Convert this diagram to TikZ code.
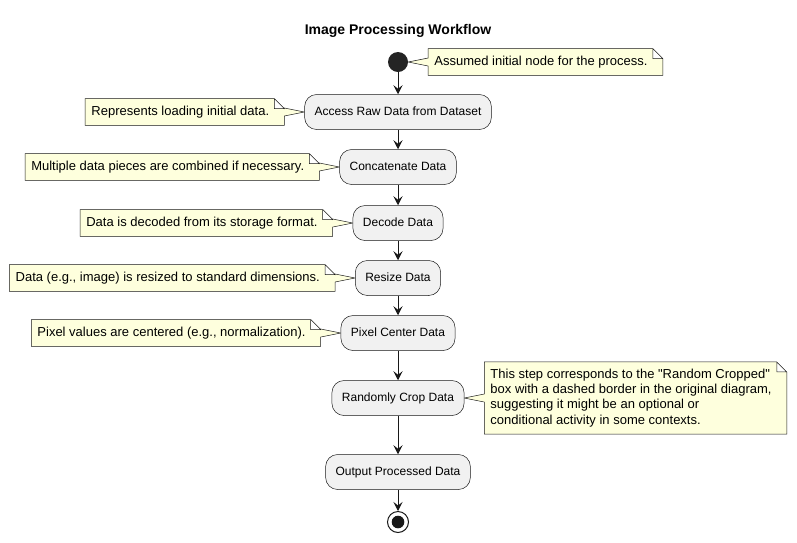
\documentclass[tikz,border=0pt]{standalone}
\usepackage{fontspec}
\setmainfont{Liberation Sans}[Ligatures=TeXOff]
\usepackage{tikz}
\usetikzlibrary{calc,arrows.meta,positioning,backgrounds}

\definecolor{actfill}{HTML}{F1F1F1}
\definecolor{notefill}{HTML}{FEFFDD}
\definecolor{umlline}{HTML}{181818}

\begin{document}
\begin{tikzpicture}[x=1pt,y=-1pt]
      \tikzset{activity/.style={draw=umlline,
          line width=0.5pt,
          fill=actfill,
          rounded corners=12pt,
          minimum height=35pt,
          inner xsep=10pt,
          text height=9pt,
          text depth=2.5pt,
          font=\fontsize{12}{14}\selectfont},
        note text/.style={inner xsep=6pt,
          inner ysep=7pt,
          align=left,
          font=\fontsize{13}{15.2}\selectfont},
        one line/.style={text height=9.5pt, text depth=3pt},
        note line/.style={draw=umlline, line width=0.5pt, fill=notefill},
        flow/.style={draw=umlline, line width=1pt,
          -{Stealth[length=9pt,width=9pt,inset=3.5pt]}}
      }
      \useasboundingbox (0,0) rectangle (797,542);
      \node [font=\bfseries\fontsize{14}{16}\selectfont] (title) at (398,31) {Image Processing Workflow};
      \node [circle,fill=umlline!95,minimum size=20pt,inner sep=0pt] (start) at (398,62) {};
      \node [activity] (raw) at (398,112) {Access Raw Data from Dataset};
      \node [activity] (cat) at (398,167) {Concatenate Data};
      \node [activity] (dec) at (398,223) {Decode Data};
      \node [activity] (res) at (398,278) {Resize Data};
      \node [activity] (pix) at (398,333) {Pixel Center Data};
      \node [activity] (crop) at (398,398) {Randomly Crop Data};
      \node [activity] (out) at (398,472) {Output Processed Data};
      \node [circle,draw=umlline,line width=1pt,fill=white,minimum size=21pt,inner sep=0pt] (stop) at (398,522) {};
      \fill [umlline] (stop.center) circle (6.3pt);
      \node [note text,one line,right=20pt of start] (startnote) {Assumed initial node for the process.};
      \node [note text,one line,left=29pt of raw] (rawnote) {Represents loading initial data.};
      \node [note text,one line,left=29pt of cat] (catnote) {Multiple data pieces are combined if necessary.};
      \node [note text,one line,left=29pt of dec] (decnote) {Data is decoded from its storage format.};
      \node [note text,one line,left=29pt of res] (resnote) {Data (e.g., image) is resized to standard dimensions.};
      \node [note text,one line,left=29pt of pix] (pixnote) {Pixel values are centered (e.g., normalization).};
      \node [note text,right=20pt of crop] (cropnote) {This step corresponds to the "Random Cropped"\\
        box with a dashed border in the original diagram,\\
        suggesting it might be an optional or\\
        conditional activity in some contexts.};
      \begin{scope}[on background layer]
        \foreach \n/\a in {rawnote/raw,catnote/cat,decnote/dec,resnote/res,pixnote/pix}
          \draw [note line] (\n.north west) -- ($(\n.north east)+(-1pt,0pt)$)
            -- ($(\n.north east)+(9pt,-10pt)$) -- ($(\n.east)+(9pt,4pt)$) -- (\a.west)
            -- ($(\n.east)+(9pt,-4pt)$) -- ($(\n.south east)+(9pt,0pt)$) -- (\n.south west) -- cycle
            ($(\n.north east)+(-1pt,0pt)$) |- ($(\n.north east)+(9pt,-10pt)$);
        \foreach \n/\a in {startnote/start,cropnote/crop}
          \draw [note line] (\n.north west) -- ($(\n.north east)+(-1pt,0pt)$)
            -- ($(\n.north east)+(9pt,-10pt)$) -- ($(\n.south east)+(9pt,0pt)$) -- (\n.south west)
            -- ($(\n.west)+(0pt,-4pt)$) -- (\a.east) -- ($(\n.west)+(0pt,4pt)$) -- cycle
            ($(\n.north east)+(-1pt,0pt)$) |- ($(\n.north east)+(9pt,-10pt)$);
      \end{scope}
      \foreach \p/\q in {start/raw,raw/cat,cat/dec,dec/res,res/pix,pix/crop,crop/out,out/stop}
        \draw [flow] (\p) -- (\q);
    \end{tikzpicture}
\end{document}
